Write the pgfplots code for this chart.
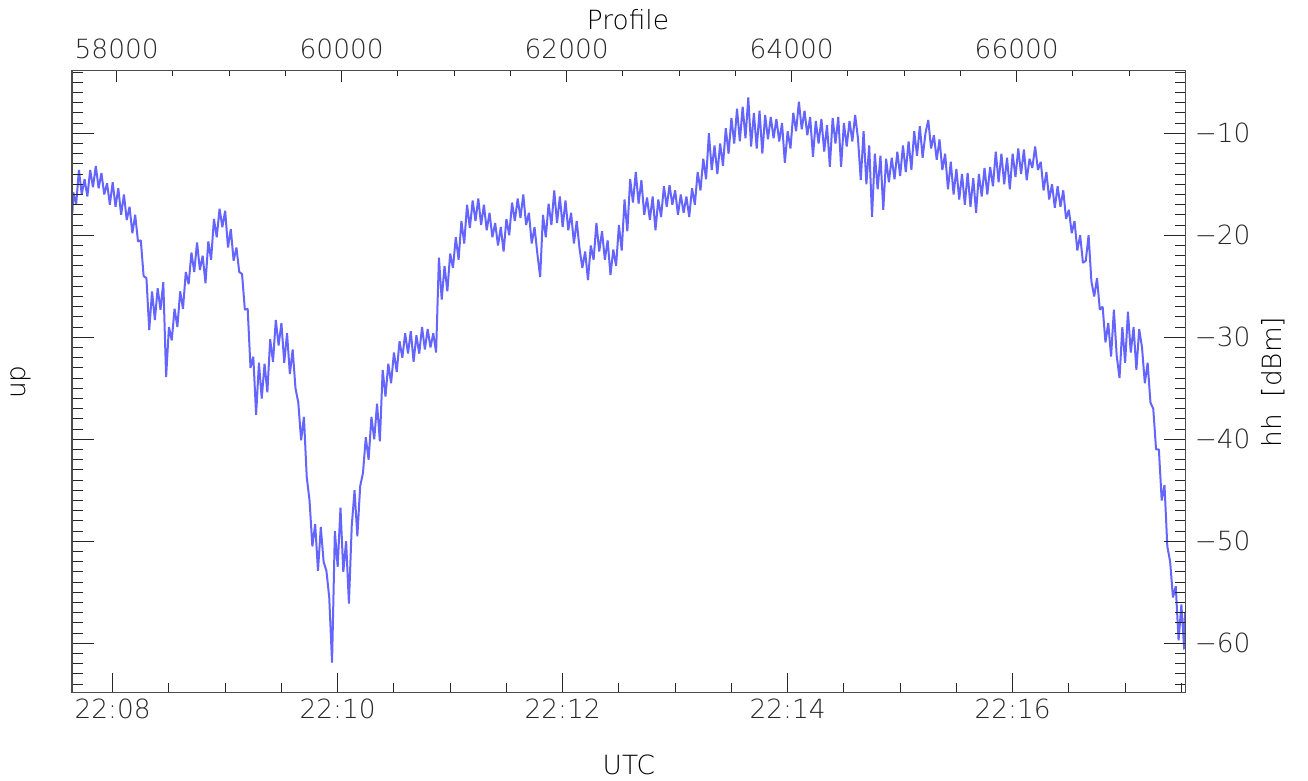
\documentclass[border=0pt]{standalone}
\usepackage{fontspec}
\IfFontExistsTF{DejaVuSans-ExtraLight.ttf}
  {\setmainfont{DejaVuSans-ExtraLight.ttf}\def\inkgray{40}}
  {\IfFontExistsTF{DejaVu Sans ExtraLight}
    {\setmainfont{DejaVu Sans ExtraLight}\def\inkgray{40}}
    {\setmainfont{DejaVu Sans}\def\inkgray{75}}}
\usepackage{pgfplots}
\pgfplotsset{compat=1.18}
\definecolor{trace}{RGB}{100,100,255}
\definecolor{ink}{RGB}{\inkgray,\inkgray,\inkgray}

% one frame shared by the three overlaid axes (time, hh, profile)
\pgfplotsset{
  frame/.style={
    scale only axis, width=556.85pt, height=311.15pt,
    at={(0,0)}, anchor=south west,
    xmin=458.3, xmax=1052.3, ymin=-64.8, ymax=-3.8,
    axis line style={black!70, line width=0.5pt},
    tick style={black!85, line width=0.5pt},
    tick align=inside,
    font=\fontsize{13.2}{16}\selectfont,
    every tick label/.append style={text=ink},
    label style={text=ink},
    scaled x ticks=false, scaled y ticks=false,
    /pgf/number format/assume math mode=true,
  },
}

\begin{document}
\begin{tikzpicture}
\path[use as bounding box] (-36pt,-44.35pt) rectangle (618pt,346.15pt);

% seconds after 22:00 UTC
\begin{axis}[frame,
  xtick={480,600,720,840,960},
  xticklabels={22:08,22:10,22:12,22:14,22:16},
  minor xtick={480,510,...,1050},
  xtick pos=left,
  ytick=\empty,
  major tick length=9.5pt, minor tick length=4.8pt,
  xlabel={UTC}, ylabel={up},
  every axis x label/.style={at={(axis description cs:0.5,-0.1168)},anchor=center},
  every axis y label/.style={at={(axis description cs:-0.0458,0.4986)},anchor=center,rotate=90},
]
\addplot[trace, line width=1pt, no markers, line join=bevel] coordinates {
(458.5,-17.8)
(459,-15.8)(460.5,-17.0)(462,-13.6)(463.5,-16.0)(465,-14.5)(466.5,-16.2)(468,-13.6)(469.5,-15.3)(471,-13.2)(472.5,-15.4)
(474,-13.9)(475.5,-16.0)(477,-14.9)(478.5,-17.0)(480,-14.8)(481.5,-17.2)(483,-15.4)(484.5,-18.0)(486,-16.0)(487.5,-18.5)
(489,-17.2)(490.5,-19.8)(492,-18.0)(493.5,-20.6)(495,-20.5)(496.5,-24.0)(498,-24.2)(499.5,-29.3)(501,-25.5)(502.5,-28.3)
(504,-25.2)(505.5,-27.3)(507,-24.6)(508.5,-33.9)(510,-29.0)(511.5,-30.3)(513,-27.2)(514.5,-29.0)(516,-25.5)(517.5,-27.2)
(519,-23.6)(520.5,-24.8)(522,-21.7)(523.5,-23.6)(525,-20.7)(526.5,-23.4)(528,-22.0)(529.5,-24.7)(531,-20.6)(532.5,-22.4)
(534,-18.4)(535.5,-20.2)(537,-17.4)(538.5,-19.2)(540,-17.6)(541.5,-21.2)(543,-19.4)(544.5,-22.5)(546,-21.2)(547.5,-23.6)
(549,-23.8)(550.5,-27.3)(552,-27.2)(553.5,-33.0)(555,-31.9)(556.5,-37.6)(558,-32.5)(559.5,-36.0)(561,-32.6)(562.5,-35.4)
(564,-30.2)(565.5,-32.4)(567,-28.3)(568.5,-30.8)(570,-28.6)(571.5,-32.5)(573,-29.6)(574.5,-33.6)(576,-31.2)(577.5,-35.0)
(579,-36.4)(580.5,-40.1)(582,-37.8)(583.5,-43.7)(585,-46.0)(586.5,-50.5)(588,-48.3)(589.5,-52.9)(591,-48.6)(592.5,-52.0)
(594,-52.9)(595.5,-55.5)(597,-61.9)(598.5,-49.0)(600,-52.5)(601.5,-46.7)(603,-53.0)(604.5,-50.0)(606,-56.1)(607.5,-48.5)
(609,-45.0)(610.5,-49.5)(612,-44.6)(613.5,-43.3)(615,-39.8)(616.5,-42.0)(618,-37.8)(619.5,-40.0)(621,-36.5)(622.5,-40.2)
(624,-33.2)(625.5,-35.8)(627,-32.6)(628.5,-34.5)(630,-31.5)(631.5,-33.4)(633,-30.4)(634.5,-32.0)(636,-29.6)(637.5,-31.6)
(639,-29.4)(640.5,-32.4)(642,-29.8)(643.5,-31.6)(645,-29.0)(646.5,-31.2)(648,-29.2)(649.5,-31.0)(651,-29.6)(652.5,-31.5)
(654,-22.2)(655.5,-26.3)(657,-23.0)(658.5,-25.5)(660,-21.8)(661.5,-23.2)(663,-20.2)(664.5,-22.4)(666,-18.6)(667.5,-20.8)
(669,-17.0)(670.5,-19.3)(672,-16.6)(673.5,-18.6)(675,-16.4)(676.5,-19.0)(678,-17.0)(679.5,-19.5)(681,-17.8)(682.5,-20.2)
(684,-18.8)(685.5,-21.0)(687,-19.2)(688.5,-21.6)(690,-18.4)(691.5,-20.0)(693,-16.8)(694.5,-18.6)(696,-16.4)(697.5,-18.3)
(699,-16.0)(700.5,-19.0)(702,-17.8)(703.5,-20.8)(705,-19.2)(706.5,-21.8)(708,-24.1)(709.5,-18.0)(711,-20.2)(712.5,-16.9)
(714,-19.0)(715.5,-15.6)(717,-18.8)(718.5,-16.2)(720,-19.2)(721.5,-16.6)(723,-19.5)(724.5,-17.8)(726,-20.8)(727.5,-18.6)
(729,-21.3)(730.5,-23.2)(732,-21.6)(733.5,-24.4)(735,-21.0)(736.5,-22.4)(738,-18.8)(739.5,-21.6)(741,-19.6)(742.5,-22.4)
(744,-20.5)(745.5,-23.9)(747,-21.4)(748.5,-23.0)(750,-19.0)(751.5,-21.5)(753,-16.5)(754.5,-19.6)(756,-14.5)(757.5,-16.8)
(759,-13.8)(760.5,-16.9)(762,-14.6)(763.5,-18.0)(765,-16.3)(766.5,-18.5)(768,-16.2)(769.5,-19.5)(771,-16.5)(772.5,-18.2)
(774,-15.2)(775.5,-17.2)(777,-15.1)(778.5,-17.0)(780,-15.6)(781.5,-18.0)(783,-16.0)(784.5,-17.8)(786,-16.2)(787.5,-18.2)
(789,-15.4)(790.5,-17.0)(792,-13.8)(793.5,-15.6)(795,-12.5)(796.5,-14.5)(798,-10.0)(799.5,-13.6)(801,-11.2)(802.5,-14.0)
(804,-11.0)(805.5,-13.2)(807,-9.5)(808.5,-12.0)(810,-8.5)(811.5,-11.0)(813,-7.6)(814.5,-10.8)(816,-7.4)(817.5,-10.5)
(819,-6.5)(820.5,-11.3)(822,-8.0)(823.5,-11.5)(825,-7.8)(826.5,-12.0)(828,-8.2)(829.5,-10.6)(831,-8.4)(832.5,-10.5)
(834,-8.6)(835.5,-10.8)(837,-9.0)(838.5,-12.9)(840,-9.8)(841.5,-11.5)(843,-8.0)(844.5,-9.8)(846,-6.9)(847.5,-9.6)
(849,-7.8)(850.5,-10.2)(852,-8.4)(853.5,-12.3)(855,-8.8)(856.5,-11.0)(858,-8.6)(859.5,-11.8)(861,-9.2)(862.5,-13.3)
(864,-8.5)(865.5,-11.0)(867,-8.4)(868.5,-13.3)(870,-9.0)(871.5,-11.3)(873,-8.8)(874.5,-10.8)(876,-8.2)(877.5,-10.5)
(879,-14.6)(880.5,-9.8)(882,-15.0)(883.5,-11.2)(885,-18.2)(886.5,-12.0)(888,-15.5)(889.5,-12.2)(891,-17.5)(892.5,-12.5)
(894,-14.8)(895.5,-12.4)(897,-14.5)(898.5,-11.8)(900,-14.2)(901.5,-11.2)(903,-13.8)(904.5,-10.8)(906,-13.6)(907.5,-9.8)
(909,-12.2)(910.5,-9.3)(912,-12.4)(913.5,-10.0)(915,-8.7)(916.5,-11.5)(918,-10.2)(919.5,-12.6)(921,-10.6)(922.5,-13.6)
(924,-12.0)(925.5,-15.5)(927,-12.8)(928.5,-16.0)(930,-13.5)(931.5,-16.5)(933,-14.0)(934.5,-17.0)(936,-13.9)(937.5,-17.2)
(939,-14.4)(940.5,-17.8)(942,-14.0)(943.5,-16.2)(945,-13.4)(946.5,-16.0)(948,-13.3)(949.5,-15.2)(951,-11.8)(952.5,-14.8)
(954,-12.0)(955.5,-15.0)(957,-12.4)(958.5,-15.5)(960,-12.0)(961.5,-14.3)(963,-11.5)(964.5,-14.0)(966,-11.6)(967.5,-14.6)
(969,-12.5)(970.5,-13.4)(972,-11.3)(973.5,-13.6)(975,-12.8)(976.5,-15.6)(978,-13.8)(979.5,-16.5)(981,-15.0)(982.5,-17.3)
(984,-15.2)(985.5,-17.2)(987,-15.6)(988.5,-18.4)(990,-17.5)(991.5,-19.8)(993,-18.6)(994.5,-21.5)(996,-20.0)(997.5,-22.7)
(999,-22.5)(1000.5,-20.0)(1002,-24.5)(1003.5,-26.0)(1005,-24.2)(1006.5,-27.3)(1008,-27.0)(1009.5,-30.5)(1011,-28.6)(1012.5,-31.9)
(1014,-27.3)(1015.5,-31.8)(1017,-34.0)(1018.5,-29.0)(1020,-32.5)(1021.5,-27.5)(1023,-31.5)(1024.5,-29.0)(1026,-33.2)(1027.5,-29.2)
(1029,-31.0)(1030.5,-34.5)(1032,-32.5)(1033.5,-36.4)(1035,-37.0)(1036.5,-41.0)(1038,-41.0)(1039.5,-46.0)(1041,-44.5)(1042.5,-50.5)
(1044,-52.0)(1045.5,-55.5)(1047,-54.4)(1048.5,-59.7)(1050,-56.2)(1051.5,-60.6)(1052,-57.0)
};
\end{axis}

% hh in dBm, ticks on both sides, numbers on the right
\begin{axis}[frame,
  xtick=\empty,
  ytick={-60,-50,-40,-30,-20,-10},
  yticklabels={−60,−50,−40,−30,−20,−10},
  minor ytick={-64,-63,...,-4},
  ytick pos=both, yticklabel pos=right,
  major tick length=11pt, minor tick length=5.4pt,
  yticklabel style={xshift=1pt},
  ylabel={hh\ \ [dBm]},
  every axis y label/.style={at={(axis description cs:1.0784,0.4986)},anchor=center,rotate=90},
]
\end{axis}

% profile number along the top
\begin{axis}[frame,
  xmin=57603, xmax=67502,
  xtick={58000,60000,62000,64000,66000},
  xticklabels={58000,60000,62000,64000,66000},
  minor xtick={58000,58500,...,67500},
  xtick pos=right, xticklabel pos=right,
  ytick=\empty,
  major tick length=5.85pt, minor tick length=3pt,
  xticklabel style={yshift=2pt},
  xlabel={Profile},
  every axis x label/.style={at={(axis description cs:0.4992,1.0804)},anchor=center},
]
\end{axis}
\end{tikzpicture}
\end{document}
